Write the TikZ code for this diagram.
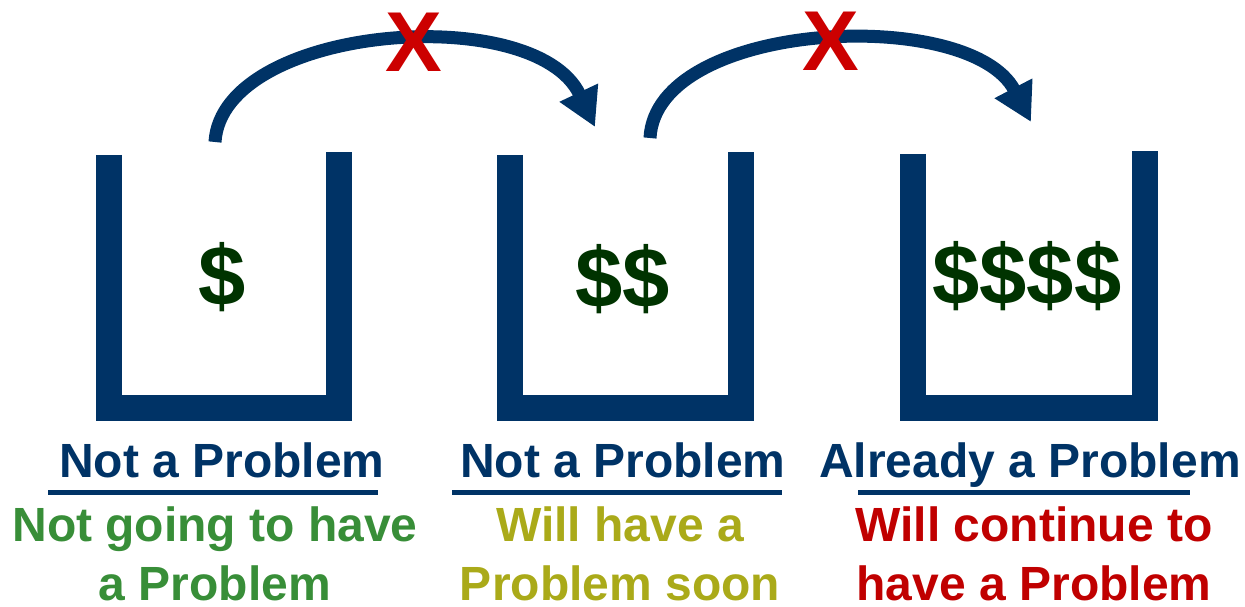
\documentclass[tikz,border=0pt]{standalone}
\usepackage{fontspec}
\setmainfont{Liberation Sans}
\usetikzlibrary{arrows.meta}
\definecolor{navy}{RGB}{0,51,102}
\definecolor{cashgreen}{RGB}{0,51,0}
\definecolor{okgreen}{RGB}{56,142,56}
\definecolor{soonolive}{RGB}{170,170,25}
\definecolor{badred}{RGB}{192,0,0}
\definecolor{crossred}{RGB}{204,0,0}
\tikzset{
	bucket/.style={navy, line width=26pt, line join=miter},
	jump/.style={navy, line width=13pt, -{Triangle[length=38pt,width=40pt]}},
	cash/.style={cashgreen, font=\fontsize{85}{85}\selectfont\bfseries, inner sep=0pt},
	cross/.style={crossred, font=\fontsize{85}{85}\selectfont\bfseries, inner sep=0pt},
	heading/.style={navy, font=\fontsize{48}{58}\selectfont\bfseries, inner sep=0pt, anchor=base},
	rule/.style={navy, line width=5pt},
	outlook/.style={font=\fontsize{48}{59}\selectfont\bfseries, inner sep=0pt, anchor=north, align=center}
}

\begin{document}
\begin{tikzpicture}[x=1pt, y=-1pt]
	\useasboundingbox (0,0) rectangle (1245,607);
	% the three buckets
	\draw[bucket] (108.5,155) -- (108.5,408) -- (338.5,408) -- (338.5,152);
	\draw[bucket] (510,155) -- (510,408) -- (741,408) -- (741,152);
	\draw[bucket] (913,154) -- (913,408) -- (1145,408) -- (1145,151);
	\node[cash] (cash1) at (222,277) {\$};
	\node[cash] (cash2) at (623,279) {\$\$};
	\node[cash] (cash3) at (1027,276) {\$\$\$\$};
	% jumps that do not happen
	\coordinate (out1) at (215,142);
	\coordinate (in2) at (595,127);
	\coordinate (out2) at (650,138);
	\coordinate (in3) at (1031,122);
	\draw[jump] (out1) .. controls (222,25) and (535,0) .. (in2);
	\draw[jump] (out2) .. controls (656,20) and (970,5) .. (in3);
	\node[cross] (stop1) at (414,42) {X};
	\node[cross] (stop2) at (831,41) {X};
	% labels
	\node[heading] (head1) at (222,477) {Not a Problem};
	\node[heading] (head2) at (623,477) {Not a Problem};
	\node[heading] (head3) at (1030,477) {Already a Problem};
	\draw[rule] (48,492) -- (378,492);
	\draw[rule] (452,492) -- (782,492);
	\draw[rule] (858,492) -- (1190,492);
	\node[outlook, okgreen] (fate1) at (215,507) {Not going to have\\a Problem};
	\node[outlook, soonolive] (fate2) at (620,507) {Will have a\\Problem soon};
	\node[outlook, badred] (fate3) at (1034,507) {Will continue to\\have a Problem};
\end{tikzpicture}
\end{document}
